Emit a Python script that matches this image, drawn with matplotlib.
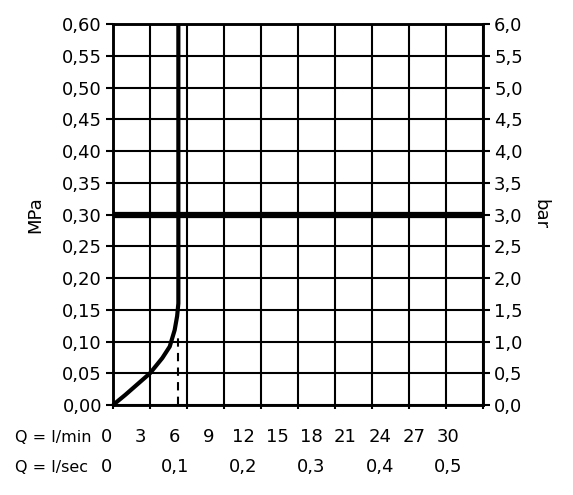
# plot.py
# Pressure / flow chart (MPa & bar vs. Q in l/min and l/sec), saved to out.png

import numpy as np
import matplotlib
matplotlib.use("Agg")
import matplotlib.pyplot as plt
from matplotlib.transforms import blended_transform_factory

# ==== DATA ====
flow_lmin = [0, 1, 2, 3, 4, 4.6, 5.0, 5.2, 5.3, 5.3]
pressure_mpa = [0, 0.016, 0.033, 0.05, 0.074, 0.092, 0.118, 0.14, 0.16, 0.60]
dashed_flow = 5.25
dashed_top = 0.11
limit_pressure = 0.30

mpa_ticks = [0.00, 0.05, 0.10, 0.15, 0.20, 0.25, 0.30, 0.35, 0.40, 0.45, 0.50, 0.55, 0.60]
bar_ticks = [0.0, 0.5, 1.0, 1.5, 2.0, 2.5, 3.0, 3.5, 4.0, 4.5, 5.0, 5.5, 6.0]
lmin_ticks = [0, 3, 6, 9, 12, 15, 18, 21, 24, 27, 30]
lsec_labels = ["0", "0,1", "0,2", "0,3", "0,4", "0,5"]
lsec_values = [0, 6, 12, 18, 24, 30]  # same place as these l/min labels

# ==== STYLE ====
plt.rcParams["font.family"] = ["DejaVu Sans"]
FS = 13
# label row in the source is slightly compressed vs the grid
LABEL_X0 = -0.55
LABEL_SCALE = 0.924


def comma(v, nd):
    return f"{v:.{nd}f}".replace(".", ",")


fig = plt.figure(figsize=(5.73, 4.95), dpi=100)
ax = fig.add_axes([0.1972, 0.1818, 0.6457, 0.7697])

ax.set_xlim(0, 30)
ax.set_ylim(0, 0.6)
ax.set_xticks(lmin_ticks)
ax.set_yticks(mpa_ticks)
ax.set_yticklabels([comma(v, 2) for v in mpa_ticks], fontsize=FS)
ax.set_xticklabels([])
ax.grid(True, color="black", linewidth=1.5)
ax.set_axisbelow(True)
for s in ax.spines.values():
    s.set_linewidth(1.8)
ax.tick_params(axis="y", direction="out", length=5, width=1.5, pad=3)
ax.tick_params(axis="x", direction="out", length=3, width=1.5)

# ==== CURVES ====
ax.axhline(limit_pressure, color="black", linewidth=4.5, zorder=3)
ax.plot(flow_lmin, pressure_mpa, color="black", linewidth=3, solid_capstyle="butt", zorder=4,
        clip_on=False)
ax.plot([dashed_flow, dashed_flow], [0, dashed_top], color="black", linewidth=1.5,
        linestyle=(0, (4, 3)), zorder=4)

# ==== RIGHT AXIS (bar) ====
ax2 = ax.twinx()
ax2.set_ylim(0, 6)
ax2.set_yticks(bar_ticks)
ax2.set_yticklabels([comma(v, 1) for v in bar_ticks], fontsize=FS)
ax2.tick_params(axis="y", direction="out", length=5, width=1.5, pad=3)
for s in ax2.spines.values():
    s.set_linewidth(1.8)

ax.text(-0.211, 0.5, "MPa", transform=ax.transAxes, rotation=90, fontsize=FS,
        ha="center", va="center")
ax.text(1.154, 0.5, "bar", transform=ax.transAxes, rotation=-90, fontsize=FS,
        ha="center", va="center")

# ==== BOTTOM LABEL ROWS ====
trans = blended_transform_factory(ax.transData, ax.transAxes)
ax.text(-0.265, -0.084, "Q = l/min", transform=ax.transAxes, fontsize=11.5,
        ha="left", va="center")
ax.text(-0.265, -0.163, "Q = l/sec", transform=ax.transAxes, fontsize=11.5,
        ha="left", va="center")
for v in lmin_ticks:
    ax.text(LABEL_X0 + v * LABEL_SCALE, -0.084, str(v), transform=trans, fontsize=FS,
            ha="center", va="center")
for lab, v in zip(lsec_labels, lsec_values):
    ax.text(LABEL_X0 + v * LABEL_SCALE, -0.163, lab, transform=trans, fontsize=FS,
            ha="center", va="center")

fig.savefig("out.png", dpi=100)
